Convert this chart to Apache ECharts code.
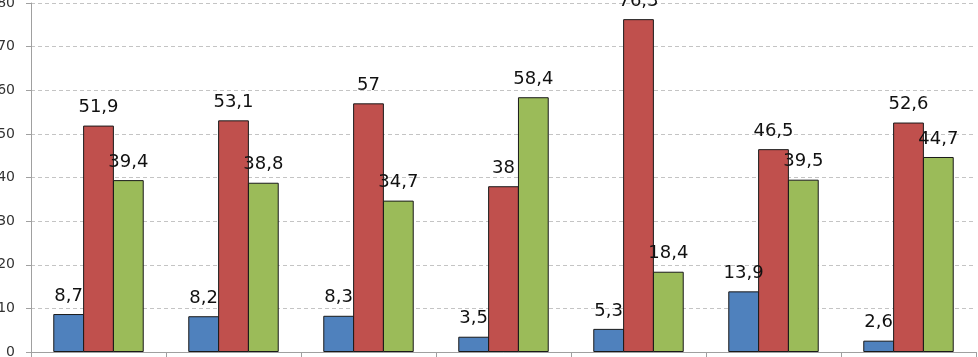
<!DOCTYPE html>
<html>
<head>
<meta charset="utf-8">
<script src="https://cdn.jsdelivr.net/npm/echarts@6/dist/echarts.min.js"></script>
<style>
	html, body { margin: 0; padding: 0; background: #fff; }
	#chart { width: 978px; height: 357px; }
</style>
</head>
<body>
<div id="chart"></div>
<script>
const categories = [ 'A', 'B', 'C', 'D', 'E', 'F', 'G' ];
const blueValues = [ 8.7, 8.2, 8.3, 3.5, 5.3, 13.9, 2.6 ];
const redValues = [ 51.9, 53.1, 57, 38, 76.3, 46.5, 52.6 ];
const greenValues = [ 39.4, 38.8, 34.7, 58.4, 18.4, 39.5, 44.7 ];
const yTicks = [ 0, 10, 20, 30, 40, 50, 60, 70, 80 ];

const fmt = ( p ) => String( p.value ).replace( '.', ',' );

function makeSeries( name, data, color ) {
	return {
		name: name,
		type: 'bar',
		data: data,
		barGap: '-3%',
		barCategoryGap: '33%',
		itemStyle: { color: color, borderColor: '#1a1a1a', borderWidth: 1 },
		label: {
			show: true,
			position: 'top',
			distance: 9,
			formatter: fmt,
			color: '#111',
			fontFamily: 'DejaVu Sans',
			fontSize: 18
		}
	};
}

const chart = echarts.init( document.getElementById( 'chart' ) );
chart.setOption( {
	animation: false,
	grid: { left: 31, right: 2, top: 3, bottom: 5, containLabel: false, outerBoundsMode: 'none' },
	xAxis: {
		type: 'category',
		data: categories,
		axisLine: { lineStyle: { color: '#a0a0a0', width: 1 } },
		axisTick: { show: true, length: 6, lineStyle: { color: '#a0a0a0' } },
		axisLabel: { show: false }
	},
	yAxis: {
		type: 'value',
		min: yTicks[ 0 ],
		max: yTicks[ yTicks.length - 1 ],
		interval: 10,
		axisLine: { show: true, lineStyle: { color: '#a0a0a0', width: 1 } },
		axisTick: { show: true, length: 5, lineStyle: { color: '#a0a0a0' } },
		axisLabel: {
			margin: 16,
			color: '#333',
			fontFamily: 'DejaVu Sans',
			fontSize: 14
		},
		splitLine: { lineStyle: { color: '#c4c4c4', type: [ 4, 3 ] } }
	},
	series: [
		makeSeries( 'blue', blueValues, '#4f81bd' ),
		makeSeries( 'red', redValues, '#c0504d' ),
		makeSeries( 'green', greenValues, '#9bbb59' )
	]
} );
</script>
</body>
</html>
